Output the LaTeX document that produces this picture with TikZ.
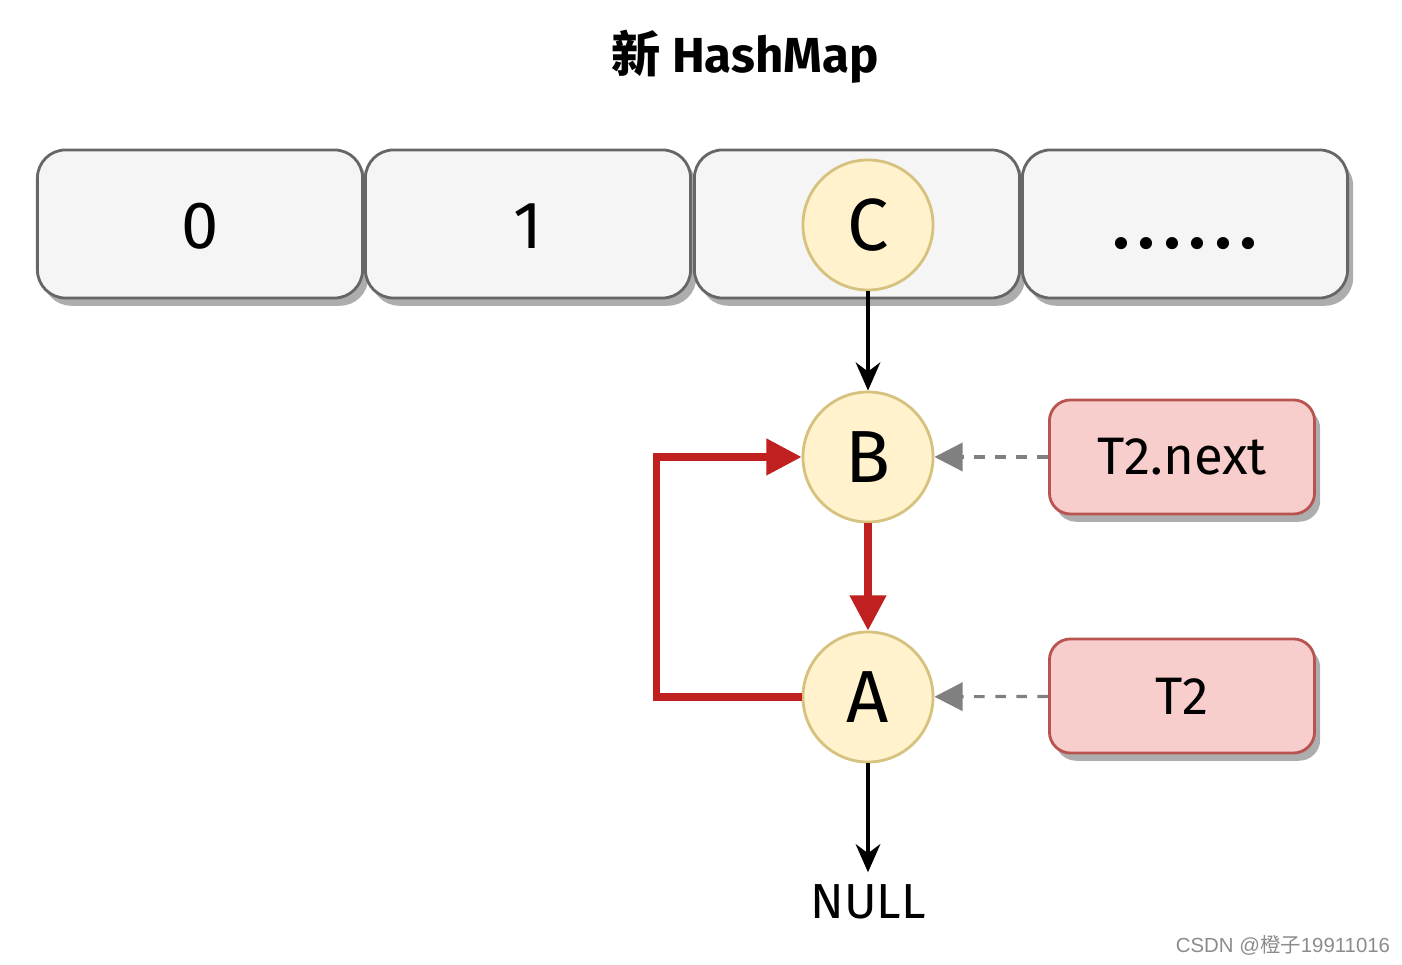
\documentclass[tikz,border=0pt]{standalone}
\usepackage{fontspec}
\setmainfont{Fira Sans}
\newfontfamily\cjk{Noto Sans CJK SC}
\newfontfamily\marke{Liberation Sans}
\usetikzlibrary{arrows.meta,shadows}

\definecolor{feldfill}{HTML}{F5F5F5}
\definecolor{felddraw}{HTML}{666666}
\definecolor{knotenfill}{HTML}{FFF2CC}
\definecolor{knotendraw}{HTML}{D6C27E}
\definecolor{zeigerfill}{HTML}{F8CECC}
\definecolor{zeigerdraw}{HTML}{B85450}
\definecolor{schleife}{HTML}{C0201F}

\begin{document}
\begin{tikzpicture}[x=0.01cm,y=-0.01cm,
  schatten/.style={drop shadow={shadow xshift=1.6pt,shadow yshift=-2.2pt,fill=black!40,opacity=0.8}},
  feld/.style={draw=felddraw,fill=feldfill,line width=0.8pt,rounded corners=8pt,
    minimum width=3.25cm,minimum height=1.48cm,font=\fontsize{19}{23}\selectfont,
    text height=14pt,text depth=0pt,schatten},
  knoten/.style={circle,draw=knotendraw,fill=knotenfill,line width=0.8pt,
    minimum size=1.3cm,inner sep=0pt,font=\fontsize{21}{25}\selectfont},
  zeiger/.style={draw=zeigerdraw,fill=zeigerfill,line width=0.8pt,rounded corners=6pt,
    minimum width=2.65cm,minimum height=1.14cm,font=\fontsize{15}{18}\selectfont,schatten},
  pfeil/.style={-{Stealth[length=8pt,width=7pt]},line width=1pt},
  rotpfeil/.style={-{Triangle[length=10pt,width=10pt]},line width=2pt,draw=schleife,color=schleife},
  verweis/.style={-{Triangle[length=8pt,width=8pt]},line width=0.9pt,dashed,draw=black!50,color=black!50}]
\useasboundingbox (0,0) rectangle (1402,965);

%UEBERSCHRIFT
\node (titel) at (745,57) {\fontsize{14}{17}\selectfont\bfseries{\cjk 新} HashMap};

%FELD NR. 0 (von links)
\node[feld] (f0) at (200,224) {0};

%FELD NR. 1 (von links)
\node[feld] (f1) at (528,224) {1};

%FELD NR. 2 (von links)
\node[feld] (f2) at (857,224) {};

%FELD NR. 3 (von links)
\node[feld] (f3) at (1185,224) {\addfontfeature{LetterSpace=14}\bfseries......};

%LISTE
\node[knoten] (C) at (868,225) {C};
\node[knoten] (B) at (868,457) {B};
\node[knoten] (A) at (868,697) {A};
\node[font=\fontsize{14}{17}\selectfont] (null) at (868,902) {NULL};

%ZEIGER
\node[zeiger] (next) at (1182,457) {T2.next};
\node[zeiger] (t2) at (1182,696) {T2};

\draw[pfeil] (C) -- (B);
\draw[rotpfeil] (B) -- (A);
\draw[rotpfeil] (A.west) -- ++(-145,0) |- (B.west);
\draw[pfeil] (A) -- (null);
\draw[verweis] (next) -- (B);
\draw[verweis] (t2) -- (A);

%WASSERZEICHEN
\node[text=black!45,font=\fontsize{5.8}{7}\selectfont\marke] (wz) at (1283,945) {CSDN @{\cjk 橙子}19911016};

\end{tikzpicture}
\end{document}
